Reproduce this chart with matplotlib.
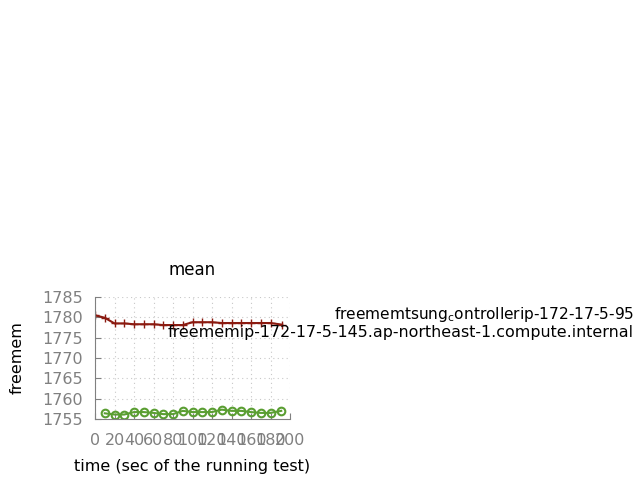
import numpy as np
import matplotlib.pyplot as plt

plt.rcParams['mathtext.default'] = 'regular'

# series
t_ctrl = [0, 10, 20, 30, 40, 50, 60, 70, 80, 90, 100, 110, 120, 130, 140, 150, 160, 170, 180, 192]
mem_ctrl = [1780.5, 1779.9, 1778.5, 1778.5, 1778.3, 1778.3, 1778.3, 1778.1, 1778.1, 1778.1,
            1778.8, 1778.8, 1778.8, 1778.6, 1778.6, 1778.6, 1778.6, 1778.6, 1778.6, 1778.2]
t_node = [10, 20, 30, 40, 50, 60, 70, 80, 90, 100, 110, 120, 130, 140, 150, 160, 170, 180, 191]
mem_node = [1756.4, 1756.1, 1756.1, 1756.7, 1756.7, 1756.5, 1756.2, 1756.2, 1757.0, 1756.7,
            1756.7, 1756.7, 1757.3, 1757.0, 1757.0, 1756.7, 1756.5, 1756.5, 1757.0]
labels = ["freememtsung$_c$ontrollerip-172-17-5-95",
          "freememip-172-17-5-145.ap-northeast-1.compute.internal"]
xticks = np.arange(0, 201, 20)
yticks = np.arange(1755, 1786, 5)

fig = plt.figure(figsize=(6.4, 4.8), dpi=100)
ax = fig.add_axes([95/640, 1-419/480, 195/640, 122/480])

ax.plot(t_ctrl, mem_ctrl, color="#8b1a10", marker="+", markersize=5.5, linewidth=1.5)
ax.plot(t_node, mem_node, color="#5a9e32", marker="o", markersize=5.5, mfc="none",
        markeredgewidth=1.5, linewidth=1.5)

ax.set_xlim(0, 200)
ax.set_ylim(1755, 1785)
ax.set_xticks(xticks)
ax.set_yticks(yticks)
ax.grid(True, color="#c8c8c8", linestyle=(0, (1, 3)), linewidth=0.8)
for s in ["top", "right"]:
    ax.spines[s].set_visible(False)
for s in ["left", "bottom"]:
    ax.spines[s].set_color("#808080")
ax.tick_params(direction="in", colors="#808080", labelsize=11.5, length=4)
ax.tick_params(axis="x", pad=10)
ax.tick_params(axis="y", pad=9)

ax.set_title("mean", fontsize=12, pad=16)
ax.set_xlabel("time (sec of the running test)", fontsize=11.5, labelpad=8)
ax.set_ylabel("freemem", fontsize=11.5, labelpad=12)

fig.text(634/640, 1-315/480, labels[0], ha="right", va="center", fontsize=11.1)
fig.text(634/640, 1-333/480, labels[1], ha="right", va="center", fontsize=11.4)

fig.savefig("out.png")
